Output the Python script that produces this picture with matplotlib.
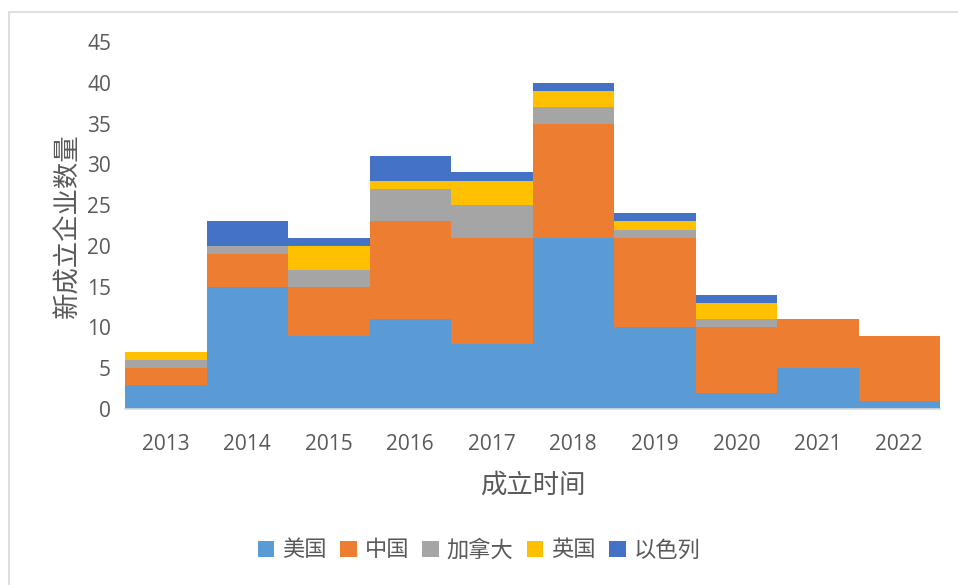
import numpy as np
import matplotlib.pyplot as plt
from matplotlib.patches import Rectangle

plt.rcParams['font.family'] = ['Open Sans', 'Noto Sans CJK SC', 'DejaVu Sans']

years = ['2013', '2014', '2015', '2016', '2017', '2018', '2019', '2020', '2021', '2022']
usa = [3, 15, 9, 11, 8, 21, 10, 2, 5, 1]
china = [2, 4, 6, 12, 13, 14, 11, 8, 6, 8]
canada = [1, 1, 2, 4, 4, 2, 1, 1, 0, 0]
uk = [1, 0, 3, 1, 3, 2, 1, 2, 0, 0]
israel = [0, 3, 1, 3, 1, 1, 1, 1, 0, 0]

series = [('美国', usa, '#5B9BD5'),
          ('中国', china, '#ED7D31'),
          ('加拿大', canada, '#A5A5A5'),
          ('英国', uk, '#FFC000'),
          ('以色列', israel, '#4472C4')]

cjk = ['Noto Sans CJK SC', 'DejaVu Sans']

fig = plt.figure(figsize=(9.58, 5.85), dpi=100)
ax = fig.add_axes([125/958, 1 - 409/585, 815/958, 367/585])

# chart frame
fig.patches.append(Rectangle((9/958, -0.1), 1.2, 1 - 12/585 + 0.1, transform=fig.transFigure,
                             fill=False, edgecolor='#d9d9d9', linewidth=1.2))

x = np.arange(len(years))
bottom = np.zeros(len(years))
for name, vals, col in series:
    ax.bar(x, vals, width=1.0, bottom=bottom, color=col, label=name, linewidth=0)
    bottom += np.array(vals)

ax.set_xlim(-0.5, len(years) - 0.5)
ax.set_ylim(0, 45)
ax.set_yticks(range(0, 46, 5))
ax.set_xticks(x)
ax.set_xticklabels(years)
ax.tick_params(axis='both', length=0, labelsize=15, colors='#595959')
ax.tick_params(axis='x', pad=18)
ax.tick_params(axis='y', pad=10)
for s in ['top', 'right', 'left']:
    ax.spines[s].set_visible(False)
ax.spines['bottom'].set_color('#d9d9d9')
ax.spines['bottom'].set_linewidth(1.2)

ax.set_xlabel('成立时间', fontsize=19, color='#595959', labelpad=12, family=cjk)
ax.set_ylabel('新成立企业数量', fontsize=19, color='#595959', labelpad=4, family=cjk)

leg = fig.legend(loc='center', bbox_to_anchor=(0.5, 1 - 550/585), ncol=5, frameon=False,
                 prop={'family': cjk, 'size': 16},
                 handlelength=0.75, handleheight=0.75, handletextpad=0.35, columnspacing=0.6)
for t in leg.get_texts():
    t.set_color('#595959')

fig.savefig('out.png', dpi=100)
